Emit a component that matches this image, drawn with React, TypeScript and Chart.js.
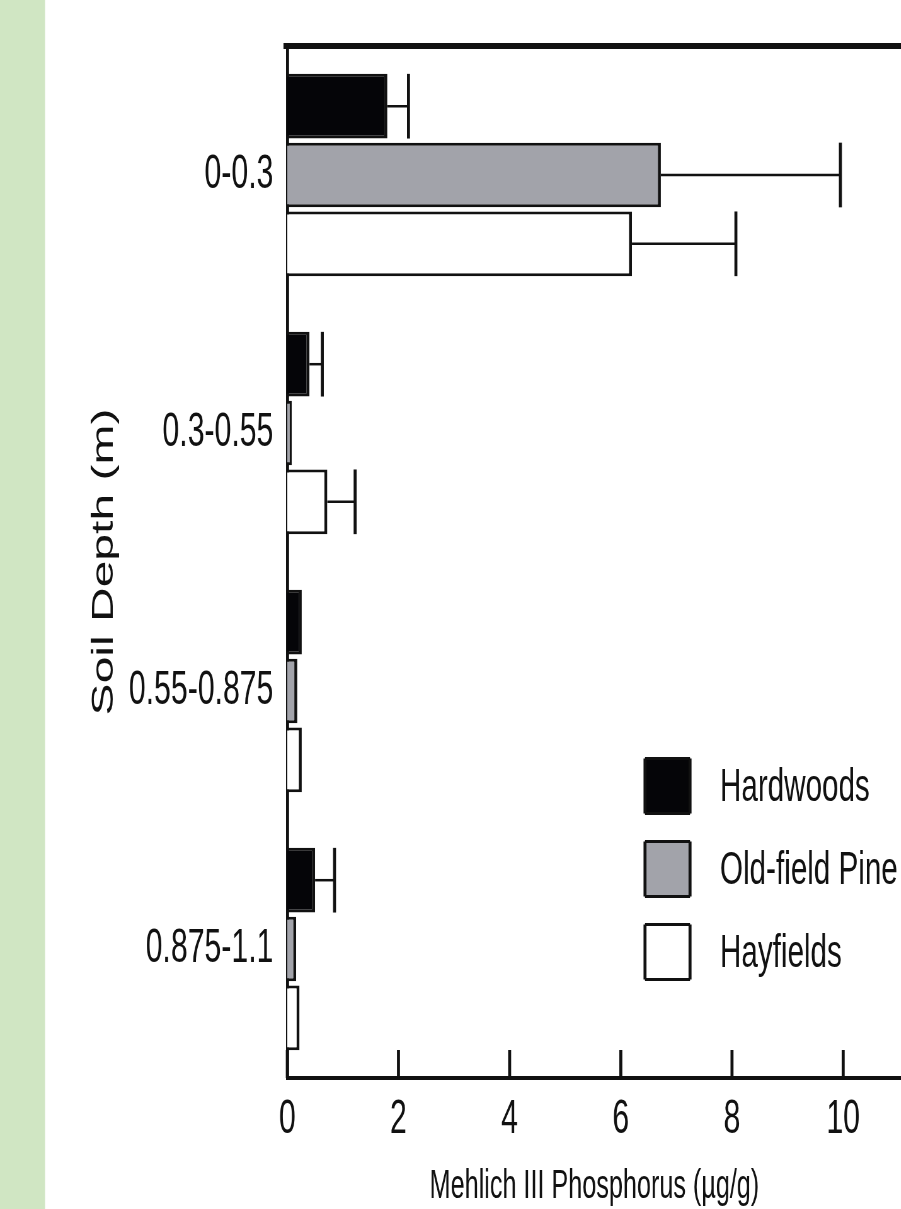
import React, { useEffect, useRef } from "react";
import { Chart, registerables } from "chart.js";

Chart.register(...registerables);

// ---- data ----
const categories = ["0-0.3", "0.3-0.55", "0.55-0.875", "0.875-1.1"];
const seriesNames = ["Hardwoods", "Old-field Pine", "Hayfields"];
const hardwoods = [1.8, 0.4, 0.26, 0.5];
const hardwoodsErr = [0.38, 0.23, 0, 0.35];
const oldFieldPine = [6.72, 0.08, 0.18, 0.16];
const oldFieldPineErr = [3.23, 0, 0, 0];
const hayfields = [6.2, 0.72, 0.26, 0.22];
const hayfieldsErr = [1.87, 0.5, 0, 0];
const xTicks = [0, 2, 4, 6, 8, 10];
const xTitle = "Mehlich III Phosphorus (µg/g)";
const yTitle = "Soil Depth (m)";

// ---- style ----
const SX = 0.63; // horizontal condensation of the original figure
const CW = 1431;
const CH = 1240;
const FONT = "'Liberation Sans', Arial, Helvetica, sans-serif";
const INK = "#111";
const fills = ["#050508", "#a2a3aa", "#ffffff"];
const errs = [hardwoodsErr, oldFieldPineErr, hayfieldsErr];
const vals = [hardwoods, oldFieldPine, hayfields];

const background = {
  id: "background",
  beforeDraw(chart: any) {
    const { ctx, width, height } = chart;
    ctx.save();
    ctx.fillStyle = "#ffffff";
    ctx.fillRect(0, 0, width, height);
    ctx.fillStyle = "#d0e6c3";
    ctx.fillRect(0, 0, 45 / SX, height);
    ctx.restore();
  },
};

const frame = {
  id: "frame",
  afterDraw(chart: any) {
    const { ctx, chartArea } = chart;
    const x = chart.scales.x;
    ctx.save();
    ctx.strokeStyle = INK;
    ctx.lineWidth = 6;
    ctx.beginPath();
    ctx.moveTo(chartArea.left - 6, chartArea.top);
    ctx.lineTo(chartArea.right, chartArea.top);
    ctx.stroke();
    ctx.lineWidth = 3 / SX;
    for (const t of x.ticks) {
      const px = x.getPixelForValue(t.value);
      ctx.beginPath();
      ctx.moveTo(px, chartArea.bottom);
      ctx.lineTo(px, chartArea.bottom - 28);
      ctx.stroke();
    }
    ctx.restore();
  },
};

const errorBars = {
  id: "errorBars",
  afterDatasetsDraw(chart: any) {
    const { ctx } = chart;
    const xs = chart.scales.x;
    ctx.save();
    ctx.strokeStyle = INK;
    chart.data.datasets.forEach((ds: any, i: number) => {
      const meta = chart.getDatasetMeta(i);
      meta.data.forEach((el: any, j: number) => {
        const e = errs[i][j];
        if (!e) return;
        const x1 = xs.getPixelForValue(vals[i][j] + e);
        const y = el.y;
        const h = el.height;
        ctx.lineWidth = 2.5;
        ctx.beginPath();
        ctx.moveTo(el.x, y);
        ctx.lineTo(x1, y);
        ctx.stroke();
        ctx.lineWidth = 3 / SX;
        ctx.beginPath();
        ctx.moveTo(x1, y - h / 2);
        ctx.lineTo(x1, y + h / 2);
        ctx.stroke();
      });
    });
    ctx.restore();
  },
};

const boxLegend = {
  id: "boxLegend",
  afterDraw(chart: any) {
    const { ctx } = chart;
    const bx = 645 / SX;
    const bw = 45 / SX;
    const bh = 55;
    const tx = 720 / SX;
    const cy0 = 786;
    const step = 83;
    ctx.save();
    chart.data.datasets.forEach((ds: any, i: number) => {
      const cy = cy0 + i * step;
      ctx.fillStyle = ds.backgroundColor;
      ctx.fillRect(bx, cy - bh / 2, bw, bh);
      ctx.strokeStyle = INK;
      ctx.lineWidth = 3;
      ctx.beginPath();
      ctx.moveTo(bx, cy - bh / 2);
      ctx.lineTo(bx + bw, cy - bh / 2);
      ctx.moveTo(bx, cy + bh / 2);
      ctx.lineTo(bx + bw, cy + bh / 2);
      ctx.stroke();
      ctx.lineWidth = 3 / SX;
      ctx.beginPath();
      ctx.moveTo(bx, cy - bh / 2);
      ctx.lineTo(bx, cy + bh / 2);
      ctx.moveTo(bx + bw, cy - bh / 2);
      ctx.lineTo(bx + bw, cy + bh / 2);
      ctx.stroke();
      ctx.fillStyle = INK;
      ctx.font = `47px ${FONT}`;
      ctx.textAlign = "left";
      ctx.textBaseline = "middle";
      ctx.fillText(ds.label, tx, cy + 2);
    });
    ctx.restore();
  },
};

export default function App() {
  const ref = useRef<HTMLCanvasElement>(null);

  useEffect(() => {
    if (!ref.current) return;
    const barBorder = { top: 3, bottom: 3, right: 3 / SX, left: 0 };
    const chart = new Chart(ref.current, {
      type: "bar",
      data: {
        labels: categories,
        datasets: seriesNames.map((name, i) => ({
          label: name,
          data: vals[i],
          backgroundColor: fills[i],
          borderColor: INK,
          borderWidth: barBorder,
          borderSkipped: "start",
          categoryPercentage: 0.8,
          barPercentage: 0.94,
        })),
      },
      options: {
        indexAxis: "y",
        responsive: false,
        maintainAspectRatio: false,
        animation: false,
        devicePixelRatio: 1,
        layout: { padding: { top: 46, left: 0, right: 0, bottom: 0 } },
        plugins: {
          legend: { display: false },
          tooltip: { enabled: false },
          title: { display: false },
        },
        scales: {
          x: {
            type: "linear",
            position: "bottom",
            min: 0,
            max: 11.05,
            grid: { display: false, drawTicks: false },
            border: { display: true, color: INK, width: 4 },
            afterBuildTicks: (s: any) => {
              s.ticks = xTicks.map((v) => ({ value: v }));
            },
            ticks: {
              color: INK,
              padding: 13,
              autoSkip: false,
              maxRotation: 0,
              font: { family: FONT, size: 48 },
            },
            title: {
              display: true,
              text: xTitle,
              color: INK,
              font: { family: FONT, size: 40 },
              padding: { top: 0, bottom: 29 },
            },
            afterFit: (s: any) => {
              s.height = 162;
              s.paddingLeft = 0;
              s.paddingRight = 0;
            },
          },
          y: {
            type: "category",
            position: "left",
            offset: true,
            grid: { display: false, drawTicks: false },
            border: { display: true, color: INK, width: 3 / SX },
            ticks: {
              color: INK,
              padding: 22,
              autoSkip: false,
              font: { family: FONT, size: 48 },
            },
            title: {
              display: true,
              text: yTitle,
              color: INK,
              font: { family: FONT, size: 48 },
              padding: { top: 137, bottom: 0 },
            },
            afterFit: (s: any) => {
              s.width = 456;
              s.paddingTop = 0;
              s.paddingBottom = 0;
            },
          },
        },
      } as any,
      plugins: [background, frame, errorBars, boxLegend],
    });
    return () => chart.destroy();
  }, []);

  return (
    <div
      style={{
        position: "absolute",
        left: 0,
        top: 0,
        width: 901,
        height: 1209,
        overflow: "hidden",
        background: "#fff",
      }}
    >
      <canvas
        ref={ref}
        width={CW}
        height={CH}
        style={{
          display: "block",
          width: CW,
          height: CH,
          transform: `scaleX(${SX})`,
          transformOrigin: "0 0",
        }}
      />
    </div>
  );
}
